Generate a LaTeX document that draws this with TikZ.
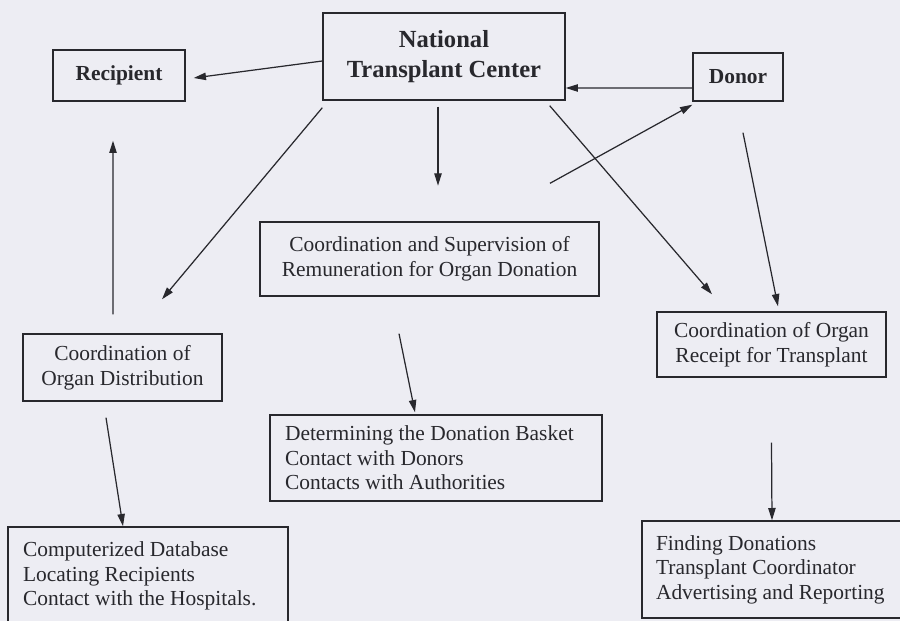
\documentclass[tikz,border=0pt]{standalone}
\usepackage{fontspec}
\setmainfont{Liberation Serif}
\usepackage{xcolor}
\usetikzlibrary{arrows.meta}
\definecolor{mypaper}{RGB}{237,237,243}
\definecolor{myink}{RGB}{40,40,45}

\begin{document}
\begin{tikzpicture}[x=0.02cm,y=-0.02cm,
every node/.style={myink},
box/.style={draw=myink, line width=0.8pt, inner sep=0pt,
  font=\fontsize{12.2}{14}\selectfont},
list/.style={box, align=flush left, inner xsep=0.3cm},
head/.style={box, font=\fontsize{12.2}{14}\selectfont\bfseries},
arr/.style={draw=myink, line width=0.7pt, -{Triangle[length=7pt,width=4.2pt]}}]
\useasboundingbox (0,0) rectangle (900,621);
\fill[mypaper] (0,0) rectangle (900,621);
\clip (0,0) rectangle (900,621);
% boxes
\node[head, font=\fontsize{14}{17}\selectfont\bfseries, align=center,
  minimum width=4.84cm, minimum height=1.74cm] (ntc) at (444,56.5)
  {National\\Transplant Center};
\node[head, minimum width=2.64cm, minimum height=1.02cm] (rec) at (119,75.5) {Recipient};
\node[head, minimum width=1.8cm, minimum height=0.96cm] (donor) at (738,77) {Donor};
\node[box, align=center, minimum width=6.78cm, minimum height=1.48cm] (sup) at (429.5,259)
  {Coordination and Supervision of\\Remuneration for Organ Donation};
\node[box, align=center, minimum width=4.58cm, minimum height=1.3cm] (receipt) at (771.5,344.5)
  {Coordination of Organ\\Receipt for Transplant};
\node[box, align=center, minimum width=3.98cm, minimum height=1.34cm] (dist) at (122.5,367.5)
  {Coordination of\\Organ Distribution};
\node[list, text width=6.04cm, minimum height=1.72cm] (basket) at (436,458)
  {Determining the Donation Basket\\Contact with Donors\\Contacts with Authorities};
\node[list, text width=5.0cm, minimum height=1.96cm] (database) at (148,576)
  {Computerized Database\\Locating Recipients\\Contact with the Hospitals.};
\node[list, inner xsep=0.28cm, text width=4.8cm, minimum height=1.94cm] (finding) at (776,569.5)
  {Finding Donations\\Transplant Coordinator\\Advertising and Reporting};
% arrows
\draw[arr] ([yshift=-0.09cm]ntc.west) -- ([xshift=0.16cm,yshift=-0.05cm]rec.east);
\draw[arr] ([yshift=-0.14cm]ntc.south west) -- ([xshift=0.79cm,yshift=0.68cm]dist.north);
\draw[arr] ([xshift=-0.12cm,yshift=-0.12cm]ntc.south) -- ([xshift=-0.12cm,yshift=-1.7cm]ntc.south);
\draw[arr] ([yshift=-0.22cm]donor.west) -- ([yshift=-0.63cm]ntc.east);
\draw[arr] ([xshift=2.41cm,yshift=0.76cm]sup.north) -- ([yshift=-0.06cm]donor.south west);
\draw[arr] ([xshift=-0.32cm,yshift=-0.1cm]ntc.south east) -- ([xshift=-1.19cm,yshift=0.34cm]receipt.north);
\draw[arr] ([xshift=0.1cm,yshift=-0.62cm]donor.south) -- ([xshift=0.13cm,yshift=0.1cm]receipt.north);
\draw[arr] ([xshift=-0.19cm,yshift=0.38cm]dist.north) -- ([xshift=-0.12cm,yshift=-0.78cm]rec.south);
\draw[arr] ([xshift=-0.33cm,yshift=-0.32cm]dist.south) -- ([xshift=-0.5cm]database.north);
\draw[arr] ([xshift=-0.61cm,yshift=-0.74cm]sup.south) -- ([xshift=-0.42cm,yshift=0.04cm]basket.north);
\draw[arr] ([yshift=-1.3cm]receipt.south) -- ([xshift=-0.08cm]finding.north);
\end{tikzpicture}
\end{document}
